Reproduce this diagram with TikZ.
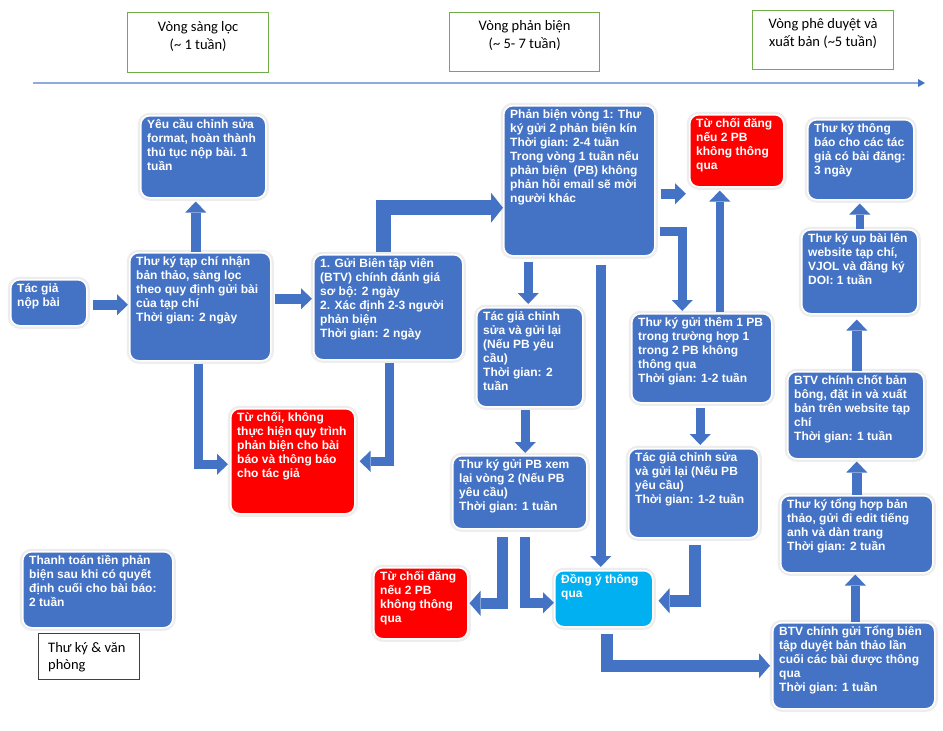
\documentclass[tikz,border=0pt]{standalone}
\usepackage{fontspec}
\setmainfont{Liberation Sans}
\newfontfamily\calib{Carlito}
\usetikzlibrary{arrows.meta,calc}
\definecolor{bl}{HTML}{4472C4}
\definecolor{rd}{HTML}{FF0000}
\definecolor{cy}{HTML}{00B0F0}
\definecolor{gr}{HTML}{70AD47}
\definecolor{tl}{HTML}{8FAADC}
\tikzset{
  bbox/.style={rounded corners=9pt, draw=white, line width=1.5pt, inner sep=0pt,
    preaction={draw=black!7, line width=6pt}},
  btext/.style={text=white, align=left, inner sep=0pt,
    font=\fontsize{12}{14}\selectfont\bfseries},
  hbox/.style={draw=gr, line width=1.3pt, fill=white, inner sep=0pt},
  htext/.style={align=center, inner sep=0pt, font=\calib\fontsize{14.5}{17.7}\selectfont},
  barrow/.style={draw=bl, line width=9.5pt, -{Triangle[length=11pt,width=21pt,line width=0pt]}},
  warrow/.style={draw=bl, line width=11.5pt, -{Triangle[length=11pt,width=25pt,line width=0pt]}},
  timeline/.style={draw=tl, line width=1.5pt, -{Triangle[length=7pt,width=8pt,line width=0pt,color=bl]}},
}
\newcommand\mkbox[7]{%
  \pgfmathsetmacro\bxw{#4-#2}%
  \pgfmathsetmacro\bxh{#5-#3}%
  \node[bbox, fill=#6, minimum width=\bxw pt, minimum height=\bxh pt, anchor=north west] (#1) at (#2pt,-#3pt) {};%
  \node[btext, anchor=north west] (#1t) at ([xshift=7pt,yshift=-2.5pt]#1.north west) {\rule{0pt}{11pt}#7};%
}
\newcommand\mkhead[7]{%
  \pgfmathsetmacro\bxw{#4-#2}%
  \pgfmathsetmacro\bxh{#5-#3}%
  \node[hbox, minimum width=\bxw pt, minimum height=\bxh pt, anchor=north west] (#1) at (#2pt,-#3pt) {};%
  \node[htext, anchor=north] (#1t) at ([yshift=-#6pt]#1.north) {\rule{0pt}{11pt}#7};%
}
\begin{document}
\begin{tikzpicture}
\fill[white] (0,0) rectangle (943pt,-731pt);
\useasboundingbox (0,0) rectangle (943pt,-731pt);

% headers
\mkhead{hA}{127}{12}{268}{72}{8.5}{Vòng sàng lọc\\(\textasciitilde\ 1 tuần)}
\mkhead{hB}{449}{12}{599}{71}{7.5}{Vòng phản biện\\(\textasciitilde\ 5- 7 tuần)}
\mkhead{hC}{752}{10}{893}{69}{7.5}{Vòng phê duyệt và\\xuất bản (\textasciitilde5 tuần)}

% timeline
\coordinate (tl0) at (33pt,-83pt);
\coordinate (tl1) at (925pt,-83pt);
\draw[timeline] (tl0) -- (tl1);

% boxes
\mkbox{A}{10}{279}{86}{325}{bl}{Tác giả\\nộp bài}
\mkbox{B}{129}{252}{270}{360}{bl}{Thư ký tạp chí nhận\\bản thảo, sàng lọc\\theo quy định gửi bài\\của tạp chí\\Thời gian: 2 ngày}
\mkbox{C}{140}{115}{265}{197}{bl}{Yêu cầu chỉnh sửa\\format, hoàn thành\\thủ tục nộp bài. 1\\tuần}
\mkbox{D}{313}{254}{462}{359}{bl}{1. Gửi Biên tập viên\\(BTV) chính đánh giá\\sơ bộ: 2 ngày\\2. Xác định 2-3 người\\phản biện\\Thời gian: 2 ngày}
\mkbox{E}{503}{105}{654}{255}{bl}{Phản biện vòng 1: Thư\\ký gửi 2 phản biện kín\\Thời gian: 2-4 tuần\\Trong vòng 1 tuần nếu\\phản biện\ \ (PB) không\\phản hồi email sẽ mời\\người khác}
\mkbox{F}{689}{114}{783}{186}{rd}{Từ chối đăng\\nếu 2 PB\\không thông\\qua}
\mkbox{G}{807}{119}{913}{199}{bl}{Thư ký thông\\báo cho các tác\\giả có bài đăng:\\3 ngày}
\mkbox{H}{801}{229}{917}{313}{bl}{Thư ký up bài lên\\website tạp chí,\\VJOL và đăng ký\\DOI: 1 tuần}
\mkbox{I}{476}{307}{582}{406}{bl}{Tác giả chỉnh\\sửa và gửi lại\\(Nếu PB yêu\\cầu)\\Thời gian: 2\\tuần}
\mkbox{J}{631}{313}{771}{402}{bl}{Thư ký gửi thêm 1 PB\\trong trường hợp 1\\trong 2 PB không\\thông qua\\Thời gian: 1-2 tuần}
\mkbox{K}{787}{371}{923}{458}{bl}{BTV chính chốt bản\\bông, đặt in và xuất\\bản trên website tạp\\chí\\Thời gian: 1 tuần}
\mkbox{L}{230}{408}{354}{513}{rd}{Từ chối, không\\thực hiện quy trình\\phản biện cho bài\\báo và thông báo\\cho tác giả}
\mkbox{M}{452}{455}{586}{528}{bl}{Thư ký gửi PB xem\\lại vòng 2 (Nếu PB\\yêu cầu)\\Thời gian: 1 tuần}
\mkbox{N}{628}{448}{758}{537}{bl}{Tác giả chỉnh sửa\\và gửi lại (Nếu PB\\yêu cầu)\\Thời gian: 1-2 tuần}
\mkbox{O}{780}{495}{932}{572}{bl}{Thư ký tổng hợp bản\\thảo, gửi đi edit tiếng\\anh và dàn trang\\Thời gian: 2 tuần}
\mkbox{P}{554}{570}{652}{626}{cy}{Đồng ý thông\\qua}
\mkbox{Q}{373}{567}{467}{638}{rd}{Từ chối đăng\\nếu 2 PB\\không thông\\qua}
\mkbox{R}{772}{622}{934}{708}{bl}{BTV chính gửi Tổng biên\\tập duyệt bản thảo lần\\cuối các bài được thông\\qua\\Thời gian: 1 tuần}
\mkbox{S}{22}{551}{172}{627}{bl}{Thanh toán tiền phản\\biện sau khi có quyết\\định cuối cho bài báo:\\2 tuần}

% legend box
\node[draw=black!75, line width=1pt, fill=white, minimum width=101pt, minimum height=46pt, anchor=north west, inner sep=0pt] (T) at (38pt,-633pt) {};
\node[anchor=north west, align=left, inner sep=0pt, font=\calib\fontsize{14.5}{17.7}\selectfont] (Tt) at ([xshift=10pt,yshift=-8pt]T.north west) {\rule{0pt}{11pt}Thư ký \& văn\\phòng};

% arrows
\coordinate (a1) at ([xshift=5pt,yshift=-2pt]A.east);
\draw[barrow, shorten >=1pt] (a1) -- (a1 -| B.west);

\coordinate (b1) at ([xshift=-4.5pt]B.north);
\draw[barrow, shorten >=3pt] (b1) -- (b1 |- C.south);

\coordinate (b2) at ([xshift=3pt,yshift=8pt]B.east);
\draw[barrow, shorten >=1pt] (b2) -- (b2 -| D.west);

\coordinate (d1) at ([xshift=-4.5pt,yshift=2pt]D.north);
\coordinate (e1) at ([yshift=-27pt]E.west);
\draw[draw=bl, line width=15pt, -{Triangle[length=12pt,width=30pt,line width=0pt]}] (d1) |- (e1);

\coordinate (b3) at ([xshift=-2pt,yshift=-2pt]B.south);
\coordinate (l1) at ([yshift=-3pt]L.west);
\draw[barrow, shorten >=2pt] (b3) |- (l1);

\coordinate (d2) at ([xshift=1pt,yshift=-2pt]D.south);
\draw[barrow, shorten >=4pt] (d2) |- (L.east);

\coordinate (e2) at ([xshift=5pt,yshift=-13pt]E.east);
\draw[barrow, shorten >=3pt] (e2) -- (e2 -| F.west);

\coordinate (i1) at ([xshift=-1.5pt]I.north);
\draw[barrow, shorten <=5pt, shorten >=3pt] (i1 |- E.south) -- (i1);

\coordinate (p1) at ([xshift=-3pt]P.north);
\draw[barrow, shorten <=8pt, shorten >=3pt] (p1 |- E.south) -- (p1);

\coordinate (e3) at ([xshift=4pt,yshift=-50.5pt]E.east);
\coordinate (j1) at ([xshift=-19.5pt]J.north);
\draw[barrow, line width=9pt, shorten >=2pt] (e3) -| (j1);

\coordinate (f2) at ([xshift=-17pt]F.south);
\draw[barrow, line width=8.5pt, shorten <=1pt, shorten >=3pt] (f2 |- J.north) -- (f2);

\coordinate (g1) at ([xshift=-1pt]G.south);
\draw[barrow, line width=8.5pt, shorten >=3pt] (g1 |- H.north) -- (g1);

\coordinate (h1) at ([xshift=-3pt]H.south);
\draw[barrow, shorten >=5pt] (h1 |- K.north) -- (h1);

\coordinate (m1) at ([xshift=5.5pt]M.north);
\draw[barrow, shorten <=2pt, shorten >=2pt] (m1 |- I.south) -- (m1);

\coordinate (n1) at ([xshift=6.5pt]N.north);
\draw[barrow, shorten <=4pt, shorten >=3pt] (n1 |- J.south) -- (n1);

\coordinate (k1) at ([xshift=1pt]K.south);
\draw[barrow, shorten >=2pt] (k1 |- O.north) -- (k1);

\coordinate (o1) at ([xshift=-1.5pt]O.south);
\draw[barrow, shorten >=1pt] (o1 |- R.north) -- (o1);

\coordinate (m2) at ([xshift=-17pt,yshift=-7pt]M.south);
\draw[warrow, line width=11pt, shorten >=1pt] (m2) |- (Q.east);

\coordinate (m3) at ([xshift=5pt,yshift=-7pt]M.south);
\coordinate (p2) at ([yshift=-4pt]P.west);
\draw[barrow, line width=10pt] (m3) |- (p2);

\coordinate (n2) at ([xshift=1pt,yshift=-6pt]N.south);
\coordinate (p3) at ([yshift=-2pt]P.east);
\draw[warrow, shorten >=5pt] (n2) |- (p3);

\coordinate (p4) at ([xshift=3pt,yshift=-6pt]P.south);
\draw[warrow, line width=12pt, shorten >=2pt] (p4) |- (R.west);
\end{tikzpicture}
\end{document}
